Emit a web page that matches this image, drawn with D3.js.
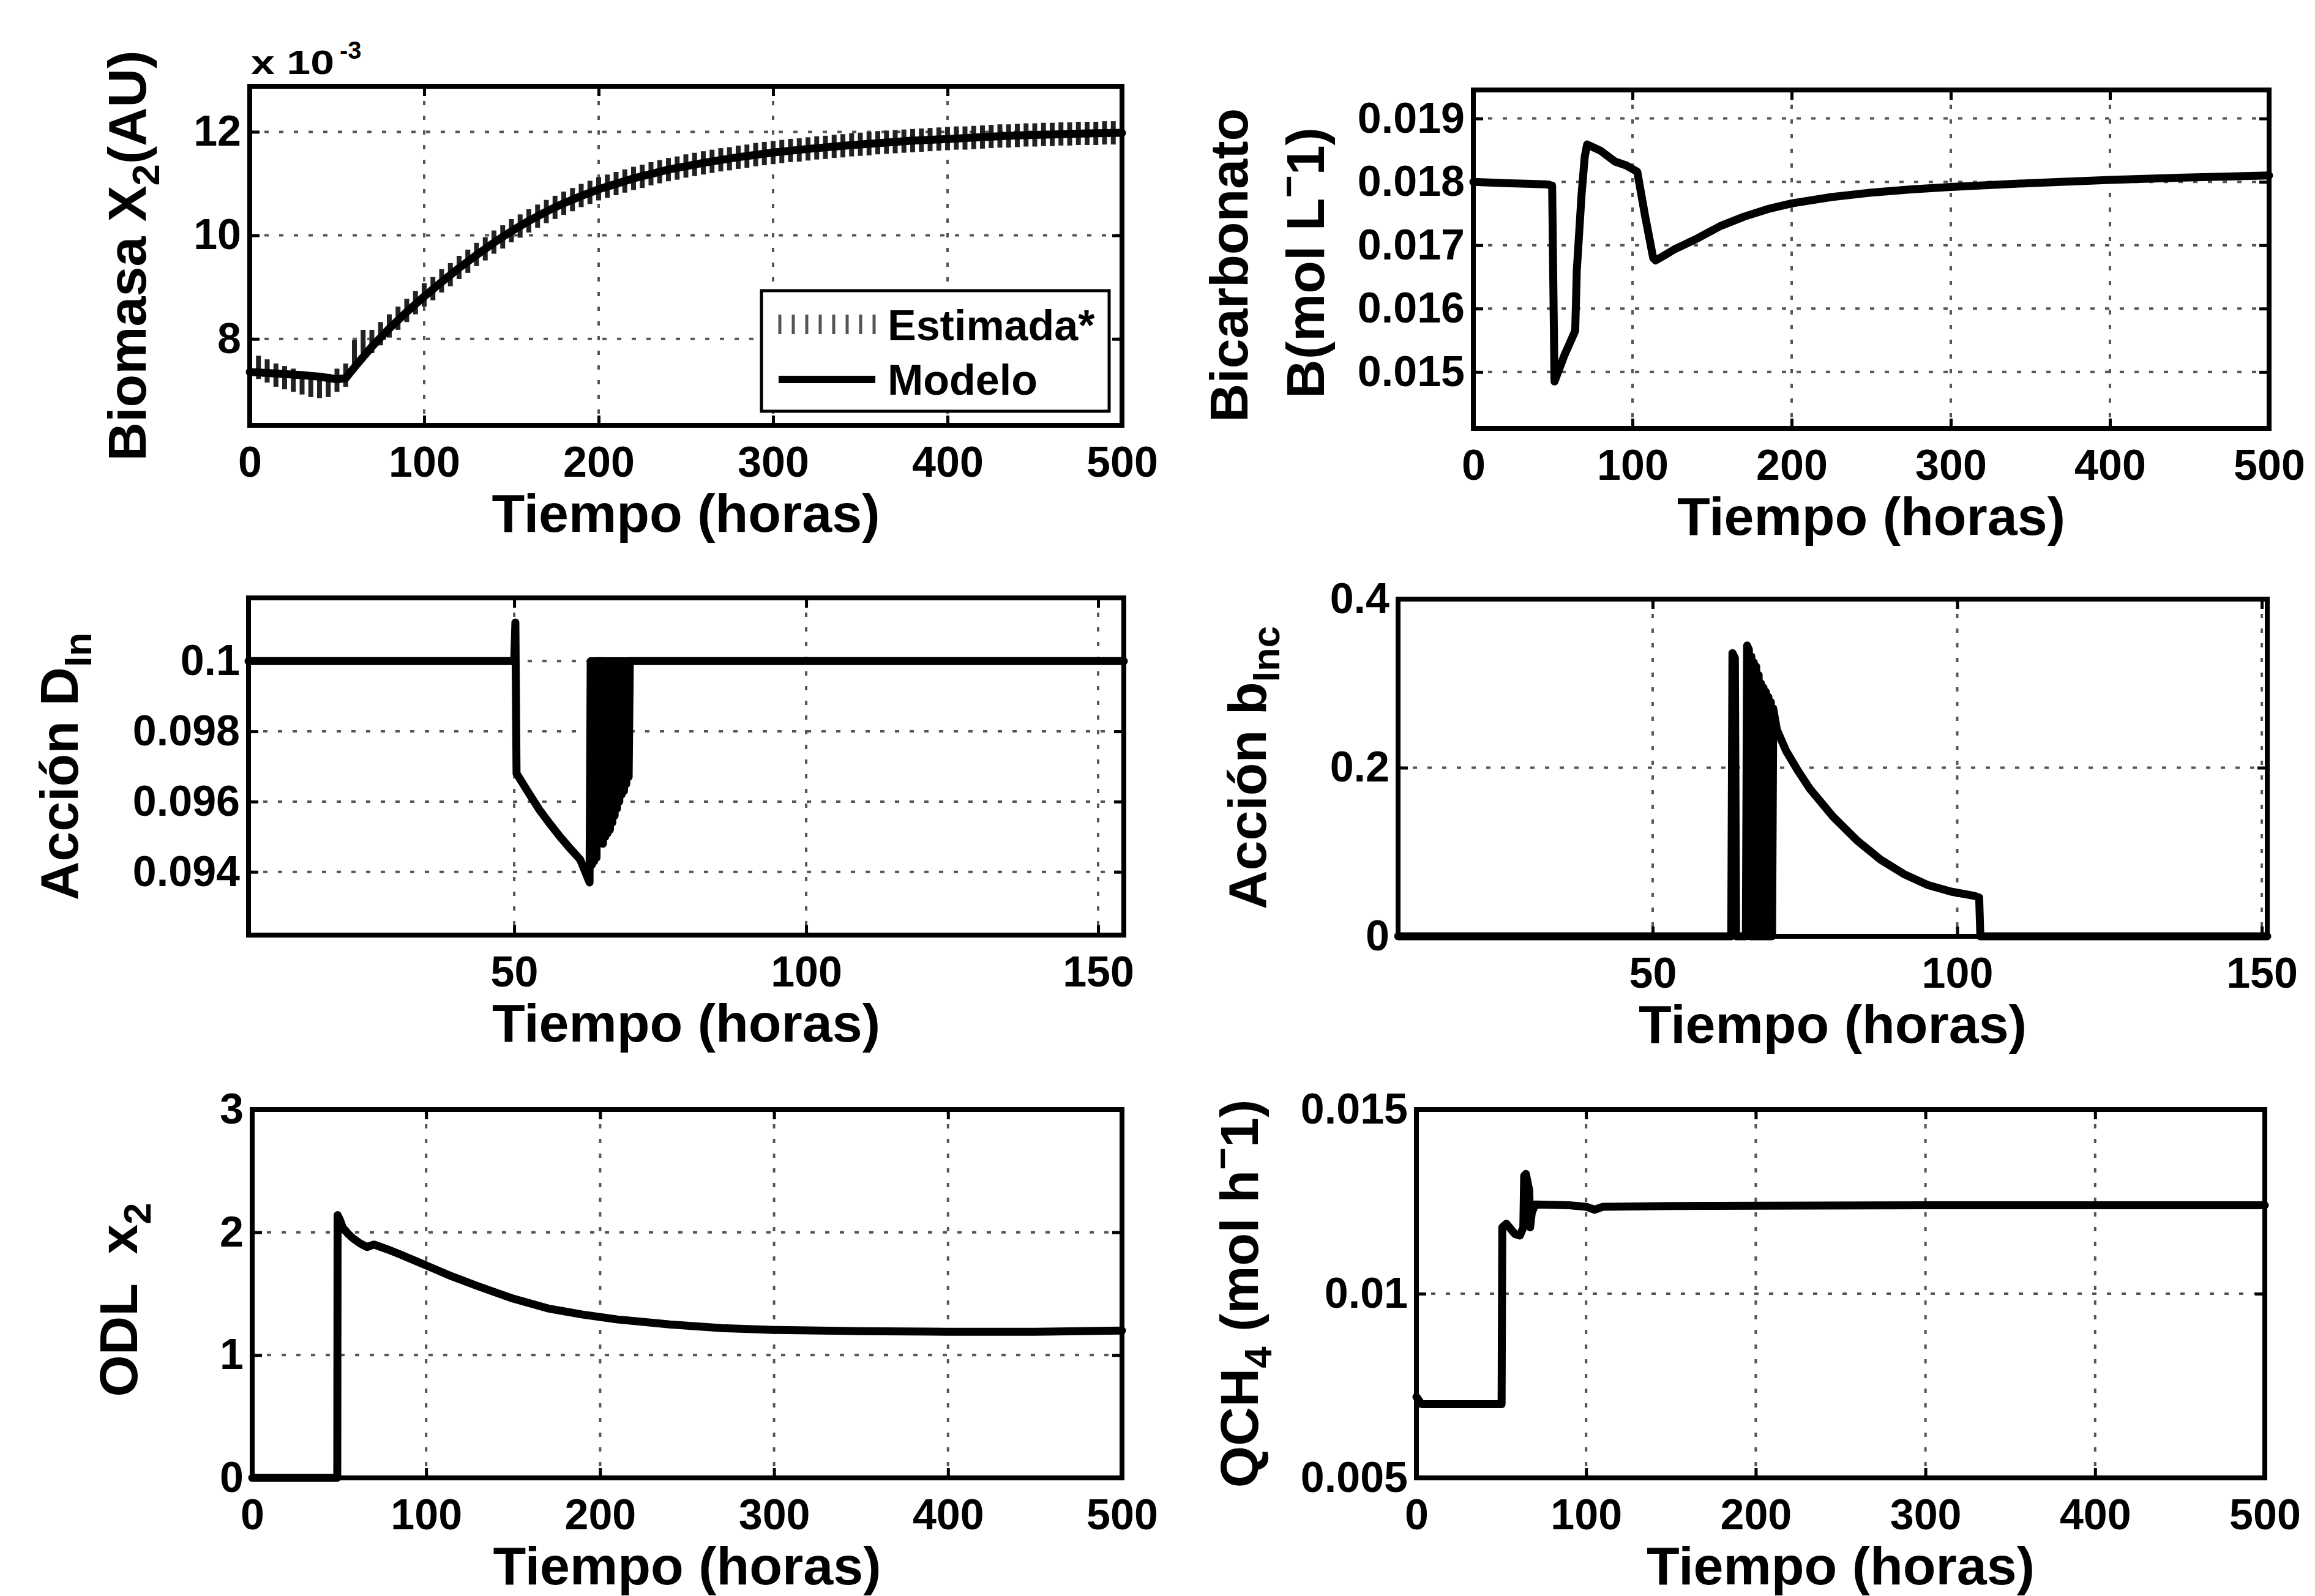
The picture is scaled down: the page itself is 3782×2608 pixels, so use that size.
<!DOCTYPE html>
<html>
<head>
<meta charset="utf-8">
<script src="https://cdn.jsdelivr.net/npm/d3@7"></script>
<style>
  body { margin: 0; background: #fff; }
  text { white-space: pre; }
</style>
</head>
<body>
<div id="fig"></div>
<script>
// ---- data ----

// Biomasa X2 (x 10^-3), model curve
var bioT = [0, 10, 20, 30, 40, 50, 55, 60, 70, 80, 90, 100, 110, 120, 130, 140, 150, 160, 170, 180, 190, 200,
            220, 240, 260, 280, 300, 320, 340, 360, 380, 400, 420, 440, 460, 480, 500];
var bioModel = [7.36, 7.34, 7.32, 7.30, 7.27, 7.22, 7.24, 7.45, 7.85, 8.20, 8.52, 8.82, 9.10, 9.37, 9.62, 9.86,
                10.08, 10.28, 10.46, 10.62, 10.76, 10.89, 11.10, 11.27, 11.40, 11.51, 11.60, 11.67, 11.73,
                11.78, 11.83, 11.86, 11.90, 11.93, 11.95, 11.97, 11.98];
// estimated biomass, one sample every 5 h from t = 0
var estStep = 5;
var bioEst = [7.95, 7.45, 7.38, 7.30, 7.25, 7.20, 7.15, 7.10, 7.08, 7.10, 7.20, 7.30, 7.75, 7.95, 7.95, 8.10,
              8.25, 8.40, 8.55, 8.70, 8.85, 8.97, 9.12, 9.24, 9.38, 9.50, 9.63, 9.74, 9.87, 9.97, 10.09,
              10.18, 10.28, 10.37, 10.46, 10.54, 10.62, 10.69, 10.77, 10.83, 10.90, 10.95, 11.00, 11.05,
              11.10, 11.14, 11.19, 11.23, 11.27, 11.30, 11.34, 11.37, 11.40, 11.43, 11.46, 11.48, 11.51,
              11.53, 11.56, 11.58, 11.60, 11.62, 11.64, 11.65, 11.67, 11.69, 11.70, 11.72, 11.73, 11.75,
              11.76, 11.77, 11.79, 11.80, 11.81, 11.82, 11.83, 11.84, 11.85, 11.86, 11.87, 11.88, 11.88,
              11.89, 11.90, 11.91, 11.92, 11.92, 11.93, 11.94, 11.94, 11.95, 11.95, 11.96, 11.96, 11.97,
              11.97, 11.97, 11.98, 11.98, 11.98];

// Bicarbonato B (mol/L)
var bicT = [0, 20, 46, 49.5, 51, 57, 64, 65, 66.5, 68, 70, 71.5, 80, 89, 96, 103, 108, 113, 114.5, 120, 126,
            141, 155, 170, 185, 200, 225, 250, 275, 300, 350, 400, 450, 500];
var bicV = [0.01800, 0.01798, 0.01796, 0.01794, 0.01485, 0.01525, 0.01565, 0.01660, 0.01720, 0.01780,
            0.01840, 0.01859, 0.01849, 0.01832, 0.01826, 0.01816, 0.01745, 0.01680, 0.01676, 0.01684,
            0.01693, 0.01711, 0.01730, 0.01745, 0.01757, 0.01766, 0.01776, 0.01783, 0.01788, 0.01792,
            0.01798, 0.01803, 0.01807, 0.01810];

// Accion D_in
var dinT = [4.5, 50, 50.2, 50.4, 52.5, 54.3, 56.1, 57.8, 59.5, 61.3, 62.9,
            63.1, 63.3, 63.5, 63.7, 63.9, 64.1, 64.3, 65.0, 65.2, 65.4, 65.6, 65.8, 66.0, 66.2, 66.4, 66.6,
            66.8, 67.0, 67.2, 67.4, 67.6, 67.8, 68.0, 68.2, 68.4, 68.6, 68.8, 69.0, 69.2, 69.4, 69.6, 69.8,
            154.4];
var dinV = [0.1, 0.1, 0.1011, 0.0968, 0.09624, 0.09577, 0.09537, 0.09501, 0.09468, 0.09435, 0.0937,
            0.1, 0.0942, 0.1, 0.0943, 0.1, 0.0944, 0.1, 0.1, 0.0948, 0.1, 0.0950, 0.1, 0.0951, 0.1, 0.0952, 0.1,
            0.0954, 0.1, 0.0956, 0.1, 0.0958, 0.1, 0.0960, 0.1, 0.0962, 0.1, 0.0963, 0.1, 0.0965, 0.1, 0.0967, 0.1,
            0.1];

// Accion b_inc
var bincT = [8.2, 62.9, 63.1, 63.5, 63.7, 65.3, 65.5, 65.8, 66.0, 66.2, 66.4, 66.6, 66.8, 67.0, 67.2, 67.4,
             67.6, 67.8, 68.0, 68.2, 68.4, 68.6, 68.8, 69.0, 69.2, 69.4, 69.6, 69.8, 70.4, 71.9, 73.8, 75.8,
             79.6, 83.5, 87.4, 91.2, 95.1, 99.0, 102.8, 103.6, 103.8, 150.9];
var bincV = [0, 0, 0.336, 0.330, 0, 0, 0.345, 0.340, 0, 0.332, 0, 0.325, 0, 0.320, 0, 0.310,
             0, 0.300, 0, 0.295, 0, 0.290, 0, 0.284, 0, 0.278, 0, 0.270, 0.245, 0.220, 0.197, 0.175,
             0.142, 0.114, 0.091, 0.074, 0.061, 0.053, 0.048, 0.046, 0, 0];

// ODL x2
var odlT = [0, 48.9, 49.1, 50.5, 52, 55, 58, 62, 66, 70, 74, 78, 85, 95, 105, 115, 130, 150, 170, 190, 210,
            240, 270, 300, 350, 400, 450, 500];
var odlV = [0, 0, 2.14, 2.10, 2.04, 1.99, 1.95, 1.91, 1.88, 1.90, 1.88, 1.86, 1.82, 1.76, 1.70, 1.64, 1.56,
            1.46, 1.38, 1.33, 1.29, 1.25, 1.22, 1.205, 1.195, 1.19, 1.19, 1.20];

// QCH4 (mol/h)
var qchT = [0, 3, 50.2, 50.6, 53, 58, 61, 63, 63.5, 64.5, 66.5, 67, 68, 70, 90, 100, 105, 110, 150, 300, 500];
var qchV = [0.0072, 0.0070, 0.0070, 0.0118, 0.0119, 0.01162, 0.01158, 0.0118, 0.0132, 0.01325, 0.0128,
            0.0118, 0.0122, 0.01242, 0.01240, 0.01236, 0.01228, 0.01236, 0.01238, 0.0124, 0.0124];

// ticks
var ticks500 = [0, 100, 200, 300, 400, 500];
var ticks150 = [50, 100, 150];
var bioTicks = [8, 10, 12];
var bicTicks = [0.015, 0.016, 0.017, 0.018, 0.019];
var dinTicks = [0.094, 0.096, 0.098, 0.1];
var bincTicks = [0, 0.2, 0.4];
var odlTicks = [0, 1, 2, 3];
var qchTicks = [0.005, 0.01, 0.015];

// ---- drawing ----
var W = 3782, H = 2608;
var fontTick = 70, fontLab = 88;

var svg = d3.select("#fig").append("svg")
  .attr("width", W).attr("height", H)
  .style("font-family", "'Liberation Sans', Arial, Helvetica, sans-serif")
  .style("font-weight", "bold");
svg.append("rect").attr("width", W).attr("height", H).attr("fill", "#fff");

var fmt = function(d) { return String(+d.toPrecision(6)); };

function addLabel(g, x, y, parts) {
  var t = g.append("text")
    .attr("transform", "translate(" + x + "," + y + ") rotate(-90)")
    .attr("text-anchor", "middle")
    .attr("font-size", fontLab)
    .attr("fill", "#000");
  var shift = 0;
  parts.forEach(function(p) {
    var target = p[1] == "sub" ? 22 : (p[1] == "sup" ? -36 : 0);
    t.append("tspan")
      .attr("dy", target - shift)
      .attr("font-size", p[1] == "n" ? fontLab : fontLab * 0.72)
      .text(p[0]);
    shift = target;
  });
}

function panel(p) {
  var x = d3.scaleLinear().domain(p.xDom).range([p.left, p.right]);
  var y = d3.scaleLinear().domain(p.yDom).range([p.bottom, p.top]);
  var g = svg.append("g");

  // dotted grid
  g.append("g").selectAll("line").data(p.xTicks).join("line")
    .attr("x1", d => x(d)).attr("x2", d => x(d))
    .attr("y1", p.top).attr("y2", p.bottom)
    .attr("stroke", "#555").attr("stroke-width", 4).attr("stroke-dasharray", "7,17");
  g.append("g").selectAll("line").data(p.yTicks).join("line")
    .attr("x1", p.left).attr("x2", p.right)
    .attr("y1", d => y(d)).attr("y2", d => y(d))
    .attr("stroke", "#555").attr("stroke-width", 4).attr("stroke-dasharray", "7,17");

  if (p.extra) p.extra(g, x, y);

  // series
  var line = d3.line().x(d => x(d[0])).y(d => y(d[1]));
  g.append("path")
    .datum(d3.zip(p.t, p.v))
    .attr("d", line)
    .attr("fill", "none")
    .attr("stroke", "#000")
    .attr("stroke-width", 13)
    .attr("stroke-linejoin", "round")
    .attr("stroke-linecap", "round");

  if (p.legend) p.legend(g);

  // box
  g.append("rect")
    .attr("x", p.left).attr("y", p.top)
    .attr("width", p.right - p.left).attr("height", p.bottom - p.top)
    .attr("fill", "none").attr("stroke", "#000").attr("stroke-width", 8);

  // axes: inward ticks on all four sides, labels bottom and left
  var ax = function(sel) {
    sel.select(".domain").remove();
    sel.selectAll(".tick line").attr("stroke", "#000").attr("stroke-width", 5);
    sel.selectAll(".tick text").attr("font-size", fontTick).attr("fill", "#000")
      .attr("font-family", null);
    sel.attr("font-family", null).attr("font-size", null);
  };
  g.append("g").attr("transform", "translate(0," + p.bottom + ")")
    .call(d3.axisBottom(x).tickValues(p.xTicks).tickSize(-16).tickPadding(34).tickFormat(fmt)).call(ax);
  g.append("g").attr("transform", "translate(0," + p.top + ")")
    .call(d3.axisTop(x).tickValues(p.xTicks).tickSize(-16).tickFormat("")).call(ax);
  g.append("g").attr("transform", "translate(" + p.left + ",0)")
    .call(d3.axisLeft(y).tickValues(p.yTicks).tickSize(-16).tickPadding(14).tickFormat(fmt)).call(ax);
  g.append("g").attr("transform", "translate(" + p.right + ",0)")
    .call(d3.axisRight(y).tickValues(p.yTicks).tickSize(-16).tickFormat("")).call(ax);

  // x label
  g.append("text")
    .attr("x", (p.left + p.right) / 2).attr("y", p.bottom + 174)
    .attr("text-anchor", "middle").attr("font-size", fontLab).attr("fill", "#000")
    .text("Tiempo (horas)");

  p.yLabels.forEach(function(l) { addLabel(g, l.x, (p.top + p.bottom) / 2 + (l.dy || 0), l.parts); });
}

// Biomasa
panel({
  left: 408, right: 1833, top: 141, bottom: 695,
  xDom: [0, 500], yDom: [6.33, 12.88], xTicks: ticks500, yTicks: bioTicks,
  t: bioT, v: bioModel,
  yLabels: [{ x: 238, parts: [["Biomasa X", "n"], ["2", "sub"], ["(AU)", "n"]] }],
  extra: function(g, x, y) {
    g.append("g").selectAll("line").data(bioEst).join("line")
      .attr("x1", (d, i) => x(i * estStep)).attr("x2", (d, i) => x(i * estStep))
      .attr("y1", d => y(d) - 19).attr("y2", d => y(d) + 19)
      .attr("stroke", "#222").attr("stroke-width", 8);
  },
  legend: function(g) {
    g.append("rect").attr("x", 1244).attr("y", 475).attr("width", 568).attr("height", 197)
      .attr("fill", "#fff").attr("stroke", "#000").attr("stroke-width", 5);
    g.append("g").selectAll("line").data(d3.range(8)).join("line")
      .attr("x1", i => 1274 + i * 22).attr("x2", i => 1274 + i * 22)
      .attr("y1", 514).attr("y2", 546)
      .attr("stroke", "#555").attr("stroke-width", 5);
    g.append("line").attr("x1", 1272).attr("x2", 1430).attr("y1", 620).attr("y2", 620)
      .attr("stroke", "#000").attr("stroke-width", 12);
    g.append("text").attr("x", 1450).attr("y", 556).attr("font-size", fontTick).text("Estimada*");
    g.append("text").attr("x", 1450).attr("y", 645).attr("font-size", fontTick).text("Modelo");
  }
});
// exponent label
svg.append("text").attr("x", 410).attr("y", 121).attr("font-size", 56)
  .attr("textLength", 136).attr("lengthAdjust", "spacingAndGlyphs").text("x 10");
svg.append("text").attr("x", 555).attr("y", 96).attr("font-size", 40).text("-3");

// Bicarbonato
panel({
  left: 2407, right: 3707, top: 147, bottom: 700,
  xDom: [0, 500], yDom: [0.01411, 0.01945], xTicks: ticks500, yTicks: bicTicks,
  t: bicT, v: bicV,
  yLabels: [
    { x: 2038, dy: 10, parts: [["Bicarbonato", "n"]] },
    { x: 2163, dy: 6, parts: [["B(mol L", "n"], ["\u2212", "sup"], ["1)", "n"]] }
  ]
});

// Accion D_in
panel({
  left: 406, right: 1836, top: 977, bottom: 1528,
  xDom: [4.5, 154.4], yDom: [0.0922, 0.1018], xTicks: ticks150, yTicks: dinTicks,
  t: dinT, v: dinV,
  yLabels: [{ x: 127, parts: [["Acci\u00f3n D", "n"], ["In", "sub"]] }]
});

// Accion b_inc
panel({
  left: 2284, right: 3704, top: 979, bottom: 1530,
  xDom: [8.2, 150.9], yDom: [0, 0.4], xTicks: ticks150, yTicks: bincTicks,
  t: bincT, v: bincV,
  yLabels: [{ x: 2068, parts: [["Acci\u00f3n b", "n"], ["Inc", "sub"]] }]
});

// ODL x2
panel({
  left: 412, right: 1833, top: 1813, bottom: 2415,
  xDom: [0, 500], yDom: [0, 3], xTicks: ticks500, yTicks: odlTicks,
  t: odlT, v: odlV,
  yLabels: [{ x: 224, dy: 10, parts: [["ODL  x", "n"], ["2", "sub"]] }]
});

// QCH4
panel({
  left: 2314, right: 3700, top: 1813, bottom: 2415,
  xDom: [0, 500], yDom: [0.005, 0.015], xTicks: ticks500, yTicks: qchTicks,
  t: qchT, v: qchV,
  yLabels: [{ x: 2055, parts: [["QCH", "n"], ["4", "sub"], [" (mol h", "n"], ["\u2212", "sup"], ["1)", "n"]] }]
});
</script>
</body>
</html>
